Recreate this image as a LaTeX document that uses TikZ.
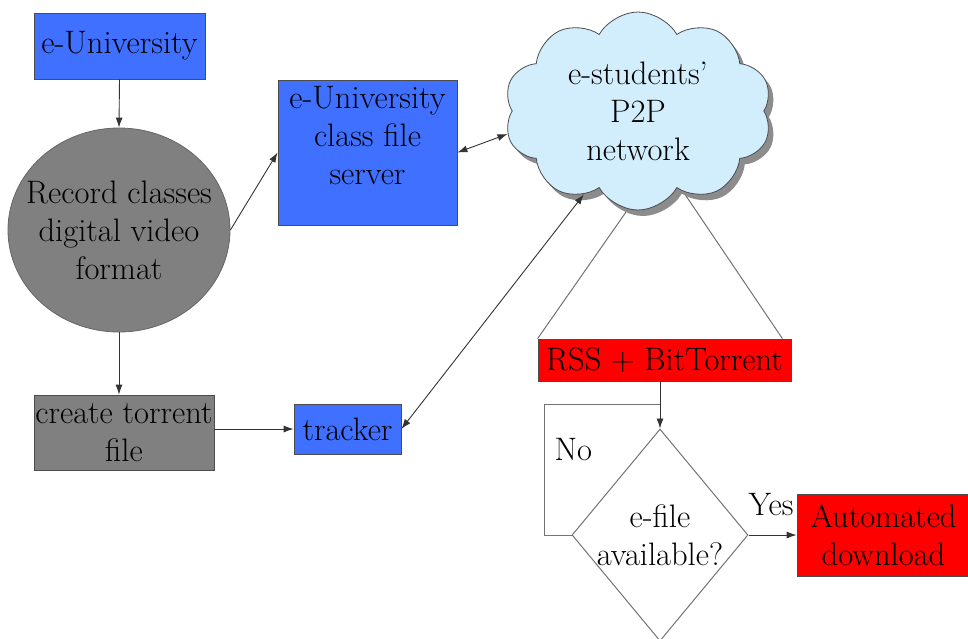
\documentclass[tikz,border=0pt]{standalone}
\usetikzlibrary{shapes.geometric,shapes.symbols,shadows,arrows.meta,backgrounds,calc}
\definecolor{eblue}{RGB}{64,112,255}
\definecolor{egray}{RGB}{128,128,128}
\definecolor{ered}{RGB}{255,0,0}
\definecolor{ecloud}{RGB}{210,238,252}
\begin{document}
\begin{tikzpicture}[x=1pt,y=-1pt,
  txt/.style={font=\fontsize{32.5}{38}\selectfont, text=black, align=center},
  box/.style={txt, rectangle, draw=black!70, line width=0.8pt, inner sep=0pt},
  bluebox/.style={box, fill=eblue},
  graybox/.style={box, fill=egray},
  redbox/.style={box, fill=ered},
  conn/.style={draw=black!80, line width=0.9pt},
  arr/.style={conn, -{Latex[length=10pt,width=7pt]}},
  darr/.style={conn, {Latex[length=10pt,width=7pt]}-{Latex[length=10pt,width=7pt]}},
  plain/.style={draw=black!55, line width=1pt}
]
\useasboundingbox (0,0) rectangle (968,638);
\clip (0,0) rectangle (968,638);

\node[bluebox, minimum width=171pt, minimum height=66pt] (eu) at (119.5,46) {e-University};
\node[ellipse, draw=black!60, line width=0.8pt, fill=egray, minimum width=222pt, minimum height=204pt, inner sep=0pt,
  label={[txt]center:Record classes\\digital video\\format}] (rec) at (119,230) {};
\node[bluebox, minimum width=179pt, minimum height=145pt] (srv) at (367.5,152.5) {e-University\\class file\\server\\[-4pt]~};
\node[cloud, cloud puffs=10, cloud puff arc=120, cloud ignores aspect, draw=black!70, line width=0.8pt, fill=ecloud, minimum width=268pt, minimum height=198pt, inner sep=0pt,
  drop shadow={shadow xshift=5pt, shadow yshift=-6pt, fill=black!45, opacity=1},
  label={[txt]center:e-students'\\P2P\\network}] (cloud) at (638,111) {};
\node[graybox, minimum width=180pt, minimum height=75pt] (ct) at (124,432.5) {create torrent\\file};
\node[bluebox, minimum width=107pt, minimum height=50pt] (tr) at (347.5,429) {tracker};
\node[redbox, minimum width=253pt, minimum height=42pt] (rss) at (664.5,360) {RSS + BitTorrent};
\node[diamond, draw=black!55, line width=1pt, fill=white, minimum width=176pt, minimum height=212pt, inner sep=0pt,
  label={[txt]center:e-file\\available?}] (dia) at (660,535) {};
\node[redbox, minimum width=173pt, minimum height=82pt] (dl) at (883.5,535) {Automated\\download};
\node[txt, anchor=west] (no) at (551,450) {No};
\node[txt] (yes) at (771,505) {Yes};
\coordinate (j) at (660,404);

\begin{scope}[on background layer]
  \draw[plain] ($(cloud.center)+(-12,101)$) -- (rss.north west);
  \draw[plain] ($(cloud.center)+(42,76)$) -- ($(rss.north east)+(-9,0)$);
\end{scope}

\draw[arr] (eu.south) -- (rec.north);
\draw[arr] (rec.east) -- (srv.west);
\draw[darr] (srv.east) -- (cloud.190);
\draw[arr] (rec.south) -- (rec.south |- ct.north);
\draw[arr] (ct.east |- tr.west) -- (tr.west);
\draw[darr] (tr.east) -- (cloud.237);
\draw[arr] (rss.south -| dia.north) -- (dia.north);
\draw[plain] (dia.west) -- ++(-27,0) |- (j);
\draw[arr] (dia.east) -- (dl.west);
\end{tikzpicture}
\end{document}
